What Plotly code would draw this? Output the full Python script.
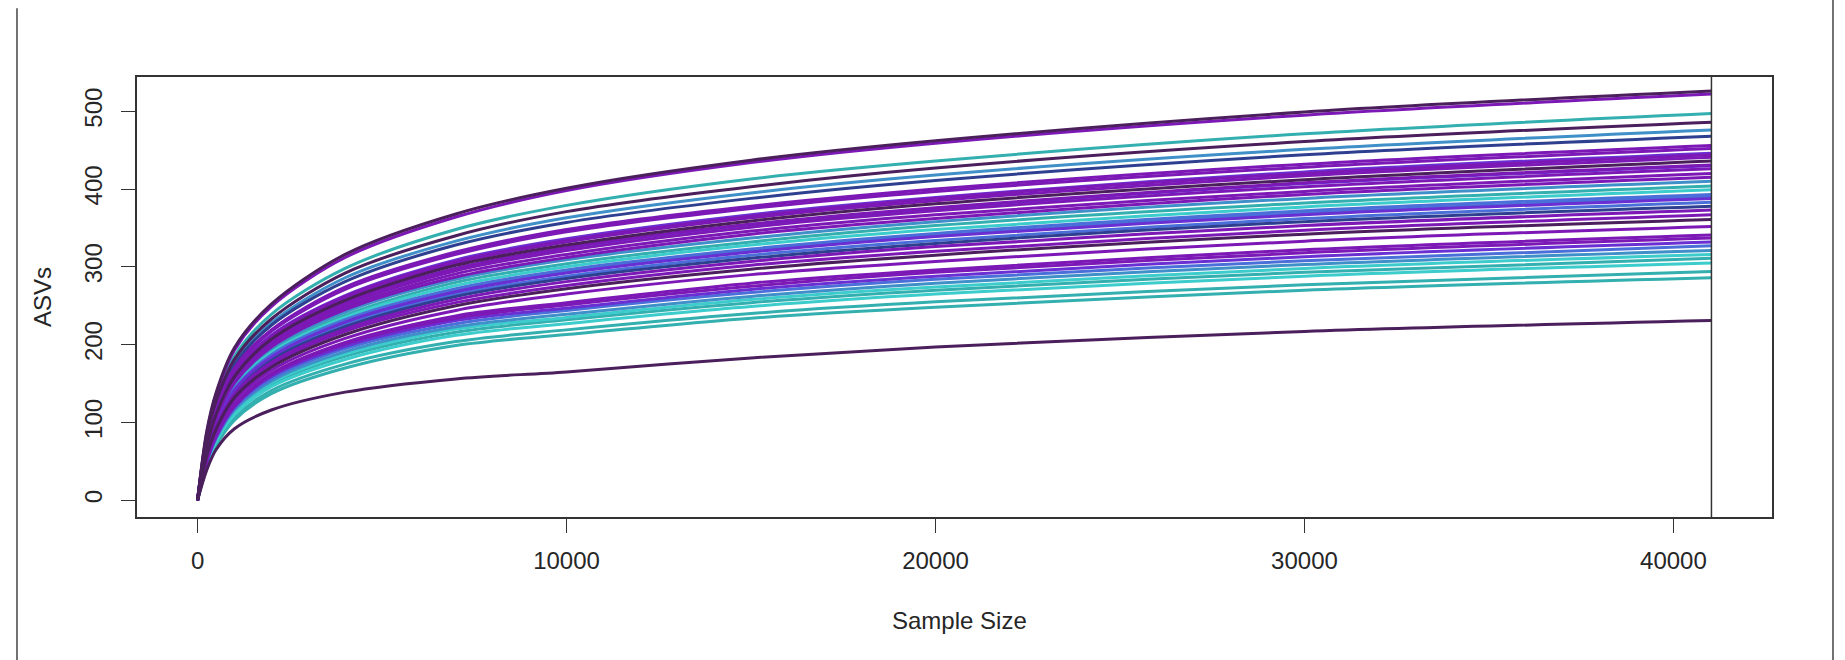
import plotly.graph_objects as go

# Subsampling depths (reads) at which richness was evaluated
sample_size = [0, 250, 500, 1000, 2000, 4000, 7000, 10000, 15000, 20000, 30000, 41030]
# Rarefaction depth marked by the vertical line
max_depth = 41030

# Observed ASVs per sample along the rarefaction curve
s01 = [0, 89, 138, 196, 252, 316, 368, 401, 437, 462, 499, 526]
s02 = [0, 86, 135, 193, 249, 312, 364, 398, 434, 459, 495, 522]
s03 = [0, 84, 130, 185, 239, 298, 348, 379, 413, 436, 471, 497]
s04 = [0, 83, 127, 181, 233, 292, 340, 371, 403, 427, 461, 486]
s05 = [0, 81, 125, 177, 228, 286, 333, 363, 395, 418, 451, 476]
s06 = [0, 80, 123, 174, 225, 281, 328, 357, 388, 411, 444, 468]
s07 = [0, 77, 118, 168, 217, 271, 316, 345, 375, 397, 428, 452]
s08 = [0, 70, 112, 163, 212, 263, 309, 336, 367, 389, 422, 446]
s09 = [0, 70, 111, 161, 209, 260, 305, 332, 363, 385, 417, 441]
s10 = [0, 69, 110, 159, 207, 257, 302, 328, 359, 381, 412, 436]
s11 = [0, 68, 109, 157, 205, 254, 298, 325, 355, 376, 408, 431]
s12 = [0, 67, 107, 155, 202, 251, 295, 321, 351, 372, 403, 426]
s13 = [0, 66, 106, 153, 200, 248, 291, 316, 346, 367, 397, 420]
s14 = [0, 66, 105, 151, 197, 245, 287, 312, 342, 362, 393, 415]
s15 = [0, 65, 103, 150, 195, 242, 284, 309, 337, 358, 388, 410]
s16 = [0, 64, 102, 147, 192, 238, 280, 304, 332, 353, 382, 404]
s17 = [0, 63, 101, 146, 190, 235, 276, 300, 328, 348, 377, 399]
s18 = [0, 62, 99, 143, 187, 232, 272, 296, 323, 343, 372, 393]
s19 = [0, 61, 98, 142, 184, 229, 268, 292, 319, 339, 367, 388]
s20 = [0, 61, 97, 140, 182, 226, 265, 288, 315, 334, 362, 383]
s21 = [0, 60, 95, 138, 180, 223, 262, 285, 311, 330, 358, 378]
s22 = [0, 59, 94, 136, 177, 220, 258, 281, 307, 326, 353, 373]
s23 = [0, 58, 92, 134, 174, 217, 254, 276, 302, 320, 347, 367]
s24 = [0, 57, 91, 132, 171, 213, 250, 272, 297, 315, 342, 361]
s25 = [0, 51, 84, 123, 163, 203, 237, 254, 279, 296, 322, 341]
s26 = [0, 51, 83, 121, 161, 201, 234, 251, 275, 293, 318, 337]
s27 = [0, 50, 81, 120, 159, 198, 231, 247, 271, 288, 313, 332]
s28 = [0, 49, 80, 118, 156, 195, 227, 244, 267, 284, 308, 327]
s29 = [0, 48, 79, 116, 153, 191, 223, 239, 262, 279, 303, 321]
s30 = [0, 47, 77, 114, 151, 188, 220, 235, 258, 274, 298, 316]
s31 = [0, 47, 76, 112, 149, 185, 216, 232, 254, 270, 293, 311]
s32 = [0, 46, 75, 110, 146, 181, 212, 227, 249, 265, 288, 305]
s33 = [0, 44, 72, 106, 141, 175, 204, 219, 240, 255, 277, 294]
s34 = [0, 43, 70, 103, 137, 170, 199, 213, 234, 248, 270, 286]
s35 = [0, 39, 65, 92, 116, 139, 156, 165, 183, 197, 217, 231]
s36 = [0, 70, 112, 162, 211, 262, 307, 334, 365, 388, 420, 444]
s37 = [0, 62, 98, 142, 185, 230, 270, 294, 321, 340, 369, 390]
s38 = [0, 56, 89, 128, 167, 208, 244, 265, 290, 307, 333, 352]
s39 = [0, 68, 108, 157, 204, 254, 298, 324, 354, 375, 407, 430]
s40 = [0, 78, 119, 170, 219, 274, 319, 348, 378, 400, 432, 456]

# Line colours
DK = "#4b1f5c"   # dark plum
PU = "#7c18b6"   # purple
VI = "#6a2fd2"   # violet
BL = "#4a6fd8"   # royal blue
SB = "#3f8fc8"   # steel blue
NV = "#2f3f90"   # navy
TE = "#33afaf"   # teal
CY = "#3ccccc"   # cyan

# Drawing order: lighter groups first, purples on top
curves = [
    (s03, TE), (s16, TE), (s31, TE), (s33, TE), (s34, TE),
    (s17, CY), (s30, CY), (s32, CY),
    (s05, SB), (s15, SB), (s29, SB),
    (s18, BL), (s37, BL), (s20, BL), (s28, BL),
    (s06, NV), (s21, NV),
    (s08, VI), (s39, VI), (s19, VI), (s27, VI),
    (s02, PU), (s40, PU), (s07, PU), (s36, PU), (s09, PU), (s11, PU),
    (s12, PU), (s13, PU), (s14, PU), (s22, PU), (s23, PU), (s38, PU),
    (s25, PU), (s26, PU),
    (s01, DK), (s04, DK), (s10, DK), (s24, DK), (s35, DK),
]

fig = go.Figure()
for values, color in curves:
    fig.add_trace(go.Scatter(
        x=sample_size, y=values, mode="lines",
        line=dict(color=color, width=3, shape="spline", smoothing=0.9),
        hoverinfo="skip", showlegend=False,
    ))

FONT = "Liberation Sans, Arial, Helvetica, sans-serif"
INK = "#262626"

fig.update_layout(
    width=1845, height=660,
    margin=dict(l=137, r=73, t=77, b=143),
    paper_bgcolor="white", plot_bgcolor="white",
    font=dict(family=FONT, size=24, color=INK),
    xaxis=dict(
        range=[-1641, 42671], tickvals=[0, 10000, 20000, 30000, 40000],
        ticktext=["0", "10000", "20000", "30000", "40000"],
        showgrid=False, zeroline=False,
        showline=True, mirror=True, linecolor="#333", linewidth=1.5,
        ticks="outside", ticklen=14, tickwidth=1.3, tickcolor="#333",
        tickfont=dict(size=24, color=INK), ticklabelstandoff=7,
    ),
    yaxis=dict(
        range=[-21.5, 544], tickvals=[0, 100, 200, 300, 400, 500],
        showgrid=False, zeroline=False,
        showline=True, mirror=True, linecolor="#333", linewidth=1.5,
        ticks="outside", ticklen=14, tickwidth=1.3, tickcolor="#333",
        tickangle=-90, tickfont=dict(size=24, color=INK), ticklabelstandoff=10,
    ),
    annotations=[
        dict(text="ASVs", xref="paper", yref="paper", x=-0.0581, y=0.5,
             textangle=-90, showarrow=False, xanchor="center", yanchor="middle",
             font=dict(size=24, color=INK)),
        dict(text="Sample Size", xref="paper", yref="paper", x=0.503, y=-0.2348,
             showarrow=False, xanchor="center", yanchor="middle",
             font=dict(size=24, color=INK)),
    ],
    shapes=[
        # rarefaction depth marker
        dict(type="line", xref="x", yref="paper", x0=max_depth, x1=max_depth,
             y0=0, y1=1, line=dict(color="#333", width=1.5)),
        # outer window frame
        dict(type="line", xref="paper", yref="paper", x0=-0.0734, x1=-0.0734,
             y0=1.156, y1=-0.33, line=dict(color="#444", width=1.5)),
        dict(type="line", xref="paper", yref="paper", x0=1.0373, x1=1.0373,
             y0=1.18, y1=-0.33, line=dict(color="#444", width=1.5)),
    ],
)

fig.write_html("out.html")
